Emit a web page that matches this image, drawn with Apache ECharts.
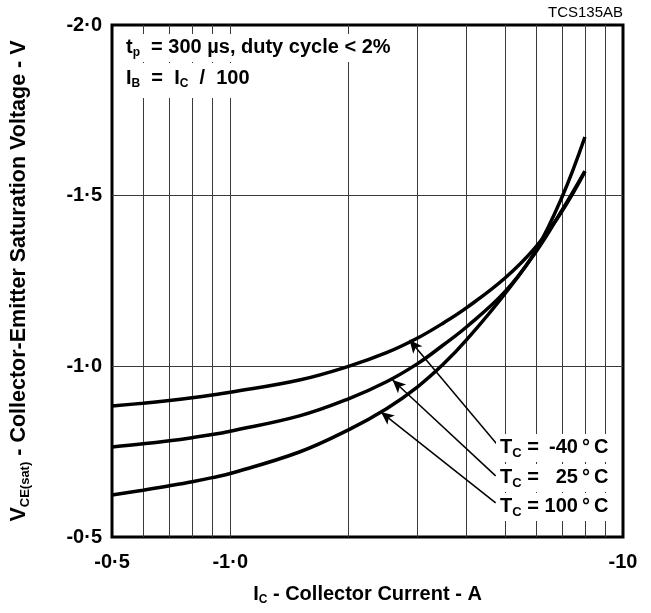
<!DOCTYPE html>
<html>
<head>
<meta charset="utf-8">
<script src="https://cdn.jsdelivr.net/npm/echarts@6/dist/echarts.min.js"></script>
<style>
  html, body { margin: 0; padding: 0; background: #fff; }
  #chart { width: 651px; height: 613px; }
</style>
</head>
<body>
<div id="chart"></div>
<script>
// ---- data ----
const currents = [0.5, 0.6, 0.7, 0.8, 0.9, 1.0, 1.5, 2.0, 2.5, 3.0, 3.5, 4.0, 5.0, 6.0, 7.0, 8.0];
const vMinus40 = [0.884, 0.892, 0.900, 0.908, 0.916, 0.924, 0.960, 1.000, 1.040, 1.083, 1.128, 1.172, 1.258, 1.350, 1.455, 1.570];
const v25      = [0.764, 0.773, 0.782, 0.791, 0.800, 0.810, 0.855, 0.905, 0.955, 1.008, 1.064, 1.116, 1.218, 1.335, 1.458, 1.572];
const v100     = [0.623, 0.637, 0.650, 0.662, 0.674, 0.686, 0.749, 0.814, 0.876, 0.940, 1.008, 1.078, 1.212, 1.340, 1.497, 1.672];

const xTickValues = [0.5, 1, 10];
const xTickLabels = ['-0·5', '-1·0', '-10'];
const yTickValues = [0.5, 1.0, 1.5, 2.0];
const yTickLabels = ['-0·5', '-1·0', '-1·5', '-2·0'];
const xGridValues = [0.6, 0.7, 0.8, 0.9, 1, 2, 3, 4, 5, 6, 7, 8, 9];
const yGridValues = [1.0, 1.5];

const curveNames = ['-40', '25', '100'];
// arrow annotation: [labelEnd, curveTip] in data units (A, V)
const arrowFrom = [[4.79, 0.770], [4.74, 0.679], [4.74, 0.600]];
const arrowTo   = [[2.86, 1.077], [2.59, 0.960], [2.42, 0.866]];

// ---- chart ----
const FONT = '"Liberation Sans", Arial, sans-serif';
const toPairs = (ys) => currents.map((x, i) => [x, ys[i]]);
const lookup = (vals, labels) => (v) => {
  let best = 0, bd = Infinity;
  vals.forEach((t, i) => { const d = Math.abs(Math.log(t) - Math.log(v)); if (d < bd) { bd = d; best = i; } });
  return bd < 0.01 ? labels[best] : '';
};

const gridLineData = xGridValues.map(v => ({ xAxis: v })).concat(yGridValues.map(v => ({ yAxis: v })));

const curveStyle = { color: '#000', width: 3.5 };
const curves = [vMinus40, v25, v100].map((ys, i) => ({
  name: curveNames[i],
  type: 'line',
  data: toPairs(ys),
  smooth: 0.4,
  showSymbol: false,
  lineStyle: curveStyle,
  itemStyle: { color: '#000' },
  z: 5,
  animation: false
}));

function makeRich(fs, sfs, lh, vw) {
  return {
    b: { fontFamily: FONT, fontWeight: 'bold', fontSize: fs, color: '#000', lineHeight: lh, verticalAlign: 'middle' },
    s: { fontFamily: FONT, fontWeight: 'bold', fontSize: sfs, color: '#000', lineHeight: sfs, verticalAlign: 'bottom' },
    v: { fontFamily: FONT, fontWeight: 'bold', fontSize: fs, color: '#000', lineHeight: lh, verticalAlign: 'middle', width: vw || 60, align: 'right' }
  };
}
const richTC = makeRich(20, 13, 25, 64);
const richTop = makeRich(20, 12, 24);
const richX = makeRich(20, 12, 24);
const richY = makeRich(21.5, 13, 26);

const tcLabelsY = [448, 478, 507];
const tcValues = ['-40\u2009°\u2009C', '25\u2009°\u2009C', '100\u2009°\u2009C'];

const chart = echarts.init(document.getElementById('chart'), null, { renderer: 'canvas' });
chart.setOption({
  animation: false,
  backgroundColor: '#fff',
  grid: { left: 111, top: 25, width: 512, height: 512, show: true, borderColor: '#000', borderWidth: 3, backgroundColor: 'transparent' },
  xAxis: {
    type: 'log', logBase: 10, min: 0.5, max: 10,
    axisLine: { show: false }, axisTick: { show: false }, splitLine: { show: false }, minorSplitLine: { show: false },
    axisLabel: {
      customValues: xTickValues, formatter: lookup(xTickValues, xTickLabels),
      fontFamily: FONT, fontWeight: 'bold', fontSize: 20, color: '#000', margin: 15, showMinLabel: true, showMaxLabel: true
    },
    name: '{b|I}{s|C}{b| - Collector Current - A}',
    nameLocation: 'middle', nameGap: 45,
    nameTextStyle: { rich: richX }
  },
  yAxis: {
    type: 'value', min: 0.5, max: 2.0, interval: 0.5,
    axisLine: { show: false }, axisTick: { show: false }, splitLine: { show: false },
    axisLabel: {
      formatter: (v) => { const i = yTickValues.findIndex(t => Math.abs(t - v) < 1e-6); return i >= 0 ? yTickLabels[i] : ''; },
      fontFamily: FONT, fontWeight: 'bold', fontSize: 20, color: '#000', margin: 10
    },
    name: '{b|V}{s|CE(sat)}{b| - Collector-Emitter Saturation Voltage - V}',
    nameLocation: 'middle', nameGap: 80,
    nameTextStyle: { rich: richY }
  },
  series: [
    {
      type: 'line', data: [], z: 1, silent: true,
      markLine: {
        silent: true, symbol: 'none', animation: false,
        label: { show: false },
        lineStyle: { color: '#3a3a3a', width: 1, type: 'solid' },
        data: gridLineData
      }
    },
    ...curves,
    {
      type: 'line', data: [], z: 6, silent: true,
      markLine: {
        silent: true, animation: false, symbolSize: [9, 13],
        label: { show: false },
        lineStyle: { color: '#000', width: 1.5, type: 'solid' },
        data: arrowFrom.map((f, i) => [
          { coord: f, symbol: 'none' },
          { coord: arrowTo[i], symbol: 'arrow' }
        ])
      }
    }
  ],
  graphic: [
    {
      type: 'text', left: 120, top: 34, z: 100,
      style: { text: '{b|t}{s|p}{b|  = 300 µs, duty cycle < 2%}', rich: richTop, backgroundColor: '#fff', padding: [1, 6, 3, 6] }
    },
    {
      type: 'text', left: 120, top: 63, z: 100,
      style: { text: '{b|I}{s|B}{b|  =  I}{s|C}{b|  /  100}', rich: richTop, backgroundColor: '#fff', padding: [3, 6, 8, 6] }
    },
    ...tcValues.map((val, i) => ({
      type: 'text', left: 496, top: tcLabelsY[i] - 14, z: 100,
      style: { text: '{b|T}{s|C}{b| = }{v|' + val + '}', rich: richTC, backgroundColor: '#fff', padding: [1, 6, 2, 4] }
    })),
    {
      type: 'text', right: 28, top: 5, z: 100,
      style: { text: 'TCS135AB', font: '15px ' + FONT, fill: '#000' }
    }
  ]
});
</script>
</body>
</html>
